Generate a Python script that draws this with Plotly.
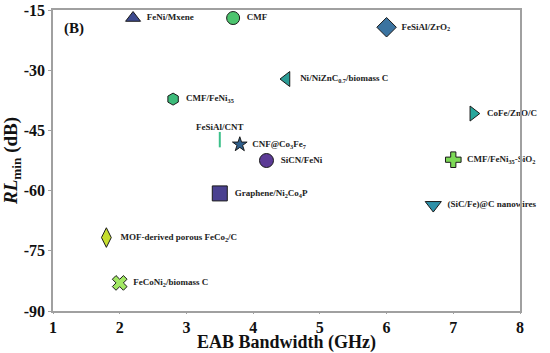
import plotly.graph_objects as go

names = [
    "FeNi/Mxene", "CMF", "FeSiAl/ZrO<sub>2</sub>", "Ni/NiZnC<sub>0.7</sub>/biomass C",
    "CMF/FeNi<sub>35</sub>", "CoFe/ZnO/C", "FeSiAl/CNT", "CNF@Co<sub>3</sub>Fe<sub>7</sub>",
    "SiCN/FeNi", "CMF/FeNi<sub>35</sub>-SiO<sub>2</sub>", "Graphene/Ni<sub>2</sub>Co<sub>4</sub>P",
    "(SiC/Fe)@C nanowires", "MOF-derived porous FeCo<sub>2</sub>/C", "FeCoNi<sub>2</sub>/biomass C",
]
bandwidth = [2.2, 3.7, 6.0, 4.5, 2.8, 7.3, 3.5, 3.8, 4.2, 7.0, 3.5, 6.7, 1.8, 2.0]
rl_min = [-17, -17, -19.3, -32.2, -37.2, -40.8, -47.3, -48.5, -52.5, -52.3, -60.7, -63.6, -71.7, -83]

symbols = ["triangle-up", "circle", "diamond", "triangle-left", "hexagon", "triangle-right",
           "line-ns", "star", "circle", "cross", "square", "triangle-down", "diamond-tall", "x"]
colors = ["#3d4a8e", "#4cc46e", "#3b73a0", "#2b9c95", "#3dbb7a", "#27a79c", "#3cc08a",
          "#2f5f8c", "#5c3b96", "#7dd957", "#4a4190", "#2e90a8", "#c6de2e", "#a2e864"]
sizes = [13, 13, 15, 13, 12, 13, 11, 11, 14, 13, 15, 14, 14, 13]
line_colors = ["#1a1a1a"] * 14
line_colors[6] = "#3cc08a"
line_widths = [1] * 14
line_widths[6] = 2
positions = ["middle right"] * 14
positions[6] = "top center"
texts = [n if i == 6 else "&nbsp;&nbsp;" + n for i, n in enumerate(names)]

x_ticks = [1, 2, 3, 4, 5, 6, 7, 8]
y_ticks = [-15, -30, -45, -60, -75, -90]

serif = "Liberation Serif, Times New Roman, serif"

fig = go.Figure()
fig.add_trace(go.Scatter(
    x=bandwidth, y=rl_min, mode="markers+text",
    text=texts, textposition=positions,
    textfont=dict(family=serif, size=9, color="#222", weight="bold"),
    marker=dict(symbol=symbols, color=colors, size=sizes, opacity=1,
                line=dict(color=line_colors, width=line_widths)),
    cliponaxis=False, showlegend=False,
))

fig.add_annotation(x=0.019, y=0.94, xref="paper", yref="paper", text="<b>(B)</b>",
                   showarrow=False, xanchor="left", yanchor="middle",
                   font=dict(family=serif, size=15, color="#111"))

fig.update_xaxes(range=[1, 8], tickvals=x_ticks, ticktext=[str(v) for v in x_ticks],
                 showgrid=False, zeroline=False, showline=True, mirror=True,
                 linecolor="#a0a0a0", linewidth=1.5, ticks="outside", ticklen=1,
                 tickcolor="#a0a0a0", automargin=False, ticklabeloverflow="allow",
                 tickfont=dict(family=serif, size=16, color="#111", weight="bold"),
                 title=dict(text="EAB Bandwidth (GHz)", standoff=0,
                            font=dict(family=serif, size=18, color="#111", weight="bold")))
fig.update_yaxes(range=[-90, -15], tickvals=y_ticks, ticktext=[str(v) for v in y_ticks],
                 showgrid=False, zeroline=False, showline=True, mirror=True,
                 linecolor="#a0a0a0", linewidth=1.5, ticks="outside", ticklen=3,
                 tickcolor="#a0a0a0", automargin=False, ticklabeloverflow="allow",
                 tickfont=dict(family=serif, size=16, color="#111", weight="bold"),
                 title=dict(text="<i>RL</i><sub>min</sub> (dB)", standoff=1,
                            font=dict(family=serif, size=19, color="#111", weight="bold")))

fig.update_layout(width=550, height=353, margin=dict(l=53, r=30, t=10, b=42),
                  paper_bgcolor="white", plot_bgcolor="white")

fig.write_html("out.html", config={"displayModeBar": False},
               post_script="document.body.style.margin='0';")
